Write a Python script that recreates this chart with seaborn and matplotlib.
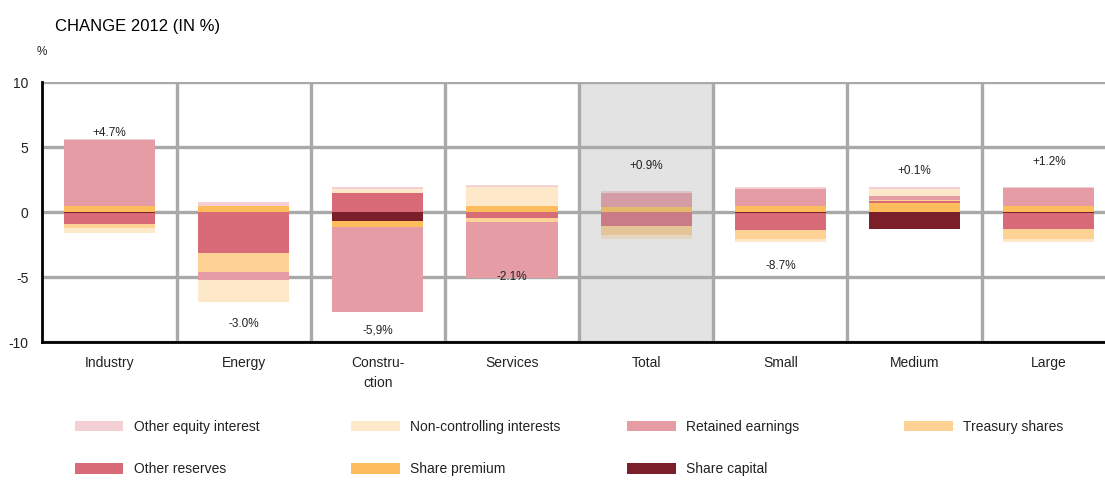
import matplotlib
matplotlib.use("Agg")
import matplotlib.pyplot as plt
from matplotlib.colors import to_hex
from matplotlib.patches import Patch
import numpy as np
import seaborn as sns

# ---- data -------------------------------------------------------------
categories = ["Industry", "Energy", "Constru-\nction", "Services",
              "Total", "Small", "Medium", "Large"]

# components of the 2012 change (percentage points), listed in stacking
# order from the zero line outward
share_capital   = [-0.05, 0.05, -0.62, 0.00, 0.00, -0.05, -1.27, -0.05]
share_premium   = [0.46, 0.46, -0.49, 0.50, 0.41, 0.46, 0.75, 0.50]
other_reserves  = [-0.85, -3.08, 1.49, -0.41, -1.05, -1.30, 0.10, -1.23]
treasury_shares = [-0.33, -1.50, 0.00, -0.36, -0.69, -0.72, 0.08, -0.77]
retained        = [5.08, -0.64, -6.54, -4.26, 1.08, 1.36, 0.35, 1.36]
non_controlling = [-0.38, -1.69, 0.33, 1.49, -0.30, -0.23, 0.55, -0.23]
other_equity    = [0.08, 0.26, 0.15, 0.13, 0.18, 0.13, 0.12, 0.13]

total_labels = ["+4.7%", "-3.0%", "-5,9%", "-2.1%", "+0.9%", "-8.7%", "+0.1%", "+1.2%"]
label_y = [6.1, -8.6, -9.1, -5.0, 3.55, -4.1, 3.2, 3.9]
y_ticks = [-10, -5, 0, 5, 10]

series = [
    ("Share capital", share_capital, "#7b1f2b", "#70303a"),
    ("Share premium", share_premium, "#fdbd5d", "#e5b86b"),
    ("Other reserves", other_reserves, "#d96b78", "#c97b86"),
    ("Treasury shares", treasury_shares, "#fdd294", "#e5c598"),
    ("Retained earnings", retained, "#e59ca5", "#d49ca5"),
    ("Non-controlling interests", non_controlling, "#fde8c9", "#e6d5c0"),
    ("Other equity interest", other_equity, "#f4cfd4", "#dcc6ca"),
]
highlight = "Total"

# ---- style ------------------------------------------------------------
sns.set_theme(style="white")
plt.rcParams["font.family"] = ["Liberation Sans", "DejaVu Sans"]
text_color = "#222222"
grid_color = "#a9a9a9"

fig = plt.figure(figsize=(11.05, 4.8), dpi=100)
ax = fig.add_axes([42.3 / 1105, 0.2865, 1073.6 / 1105, 0.5417])

# cumulative tops of the positive and negative stacks
pos = np.zeros(len(categories))
neg = np.zeros(len(categories))
layers = []
for name, vals, col, muted in series:
    v = np.asarray(vals, dtype=float)
    pos = pos + np.clip(v, 0, None)
    neg = neg + np.clip(v, None, 0)
    layers.append((col, pos.copy(), neg.copy()))

# outermost layers first, inner layers painted over them
for col, top, bottom in reversed(layers):
    for h in (top, bottom):
        sns.barplot(x=categories, y=h, order=categories, color=col,
                    saturation=1, width=0.68, errorbar=None,
                    linewidth=0, edgecolor="none", ax=ax, zorder=2)

# muted tones for the highlighted column
mute_map = {to_hex(c): to_hex(m) for _, _, c, m in series}
hi = categories.index(highlight)
for p in ax.patches:
    cx = p.get_x() + p.get_width() / 2
    if abs(cx - hi) < 1e-6:
        p.set_facecolor(mute_map.get(to_hex(p.get_facecolor()), p.get_facecolor()))

ax.axvspan(hi - 0.5, hi + 0.5, color="#e3e3e3", zorder=0.1, lw=0)

for i, (txt, yy) in enumerate(zip(total_labels, label_y)):
    ax.text(i, yy, txt, ha="center", va="center", fontsize=8.5,
            color=text_color, zorder=5)

# ---- axes -------------------------------------------------------------
ax.set_xlim(-0.5, len(categories) - 0.5)
ax.set_ylim(-10, 10)
ax.set_yticks(y_ticks)
ax.set_yticklabels([str(t) for t in y_ticks])
ax.set_xticks(range(len(categories)))
ax.set_xticklabels(categories, linespacing=1.55)
ax.set_xticks(np.arange(0.5, len(categories) - 0.5, 1), minor=True)
ax.set_xlabel("")
ax.set_ylabel("")

ax.set_axisbelow(True)
ax.yaxis.grid(True, color=grid_color, lw=2.4)
ax.xaxis.grid(True, which="minor", color=grid_color, lw=2.4)
ax.xaxis.grid(False, which="major")

for s in ("top", "right"):
    ax.spines[s].set_visible(False)
for s in ("left", "bottom"):
    ax.spines[s].set_color("black")
    ax.spines[s].set_linewidth(2.0)
    ax.spines[s].set_zorder(6)

ax.tick_params(axis="y", direction="in", length=4, width=2, color="black",
               pad=10, labelsize=10, labelcolor=text_color)
ax.tick_params(axis="x", which="major", length=0, pad=10, labelsize=10,
               labelcolor=text_color)
ax.tick_params(axis="x", which="minor", direction="in", length=4, width=2,
               color="black")

fig.text(55 / 1105, 1 - 27 / 480, "CHANGE 2012 (IN %)", fontsize=12,
         color="black", ha="left", va="center")
fig.text(42 / 1105, 1 - 52 / 480, "%", fontsize=8.5, color=text_color,
         ha="center", va="center")

# ---- legend: four columns, two rows ------------------------------------
legend_cols = [
    ["Other equity interest", "Other reserves"],
    ["Non-controlling interests", "Share premium"],
    ["Retained earnings", "Share capital"],
    ["Treasury shares"],
]
col_x = [74.7, 351.3, 627.3, 904.0]
color_of = {name: col for name, _, col, _ in series}
for names, x0 in zip(legend_cols, col_x):
    handles = [Patch(facecolor=color_of[n], edgecolor="none") for n in names]
    fig.legend(handles, names, loc="upper left",
               bbox_to_anchor=(x0 / 1105, 1 - 420 / 480),
               frameon=False, fontsize=10, handlelength=3.5,
               handleheight=0.8, handletextpad=0.75, labelspacing=2.05,
               borderpad=0, borderaxespad=0, labelcolor=text_color)

fig.savefig("out.png", dpi=100)
